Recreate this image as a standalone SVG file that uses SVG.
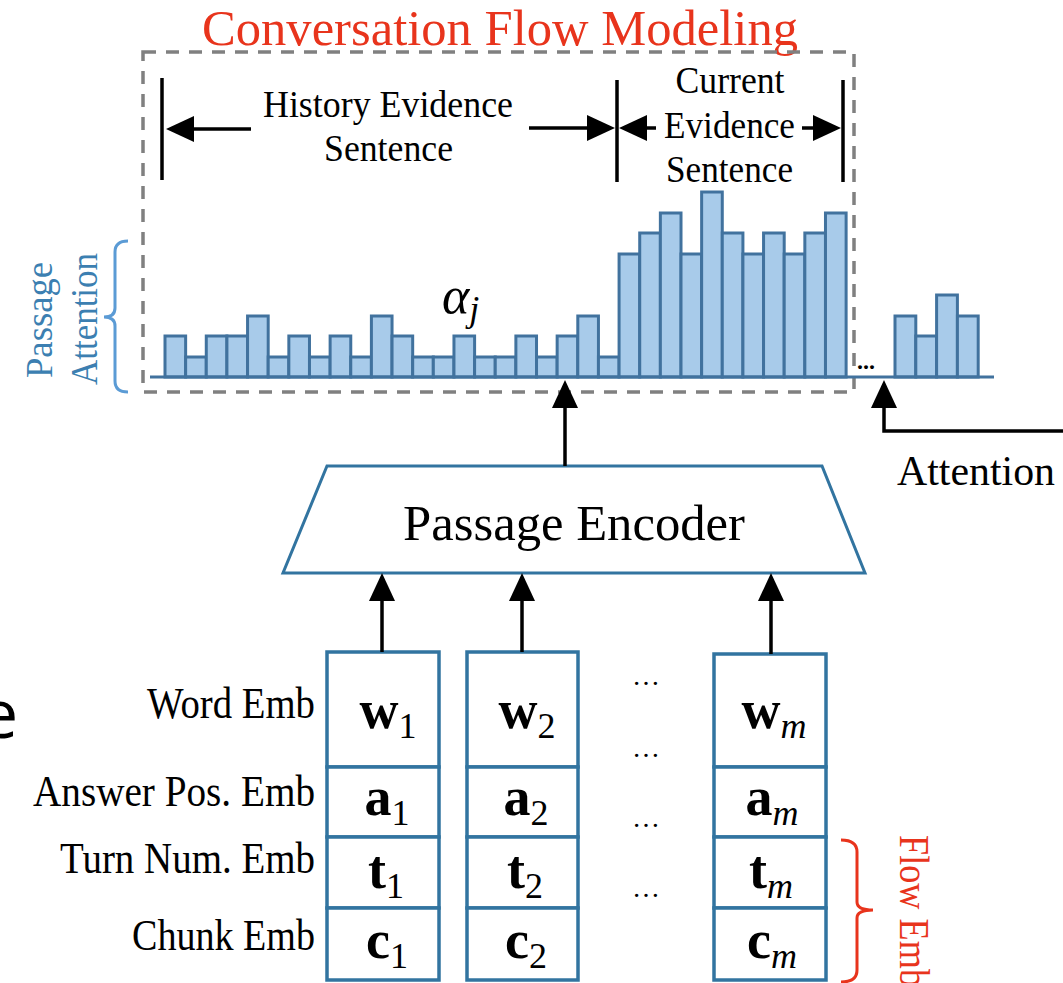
<svg xmlns="http://www.w3.org/2000/svg" width="1063" height="983" viewBox="0 0 1063 983">
  <style>
    .serif { font-family: "Liberation Serif", "Times New Roman", serif; }
    .red { fill: #E8341C; }
    .bar { fill: #A8CBEA; stroke: #41729E; stroke-width: 3; }
    .cell { fill: #fff; stroke: #3274A0; stroke-width: 3.5; }
    .conn { stroke: #000; stroke-width: 3.5; fill: none; }
    .math { font-family: "Liberation Serif", serif; font-weight: bold; font-size: 54px; text-anchor: middle; }
    .sub { font-size: 36px; font-weight: normal; }
    .subi { font-size: 36px; font-weight: normal; font-style: italic; }
    .lbl { font-family: "Liberation Serif", serif; font-size: 45px; text-anchor: end; }
    .dots { font-family: "Liberation Serif", serif; font-size: 28px; text-anchor: middle; }
  </style>
  <defs>
    <marker id="head" viewBox="0 0 28 26" refX="0" refY="13" markerWidth="28" markerHeight="26" markerUnits="userSpaceOnUse" orient="auto">
      <path d="M0,0 L28,13 L0,26 z" fill="#000"/>
    </marker>
  </defs>
  <rect width="1063" height="983" fill="#fff"/>

  <!-- partial glyph at left edge -->
  <text x="-20" y="738" font-family="Open Sans, sans-serif" font-size="68" fill="#000">e</text>

  <!-- flow modeling frame -->
  <g id="flow-frame">
    <text class="serif red" x="500" y="45" font-size="50" text-anchor="middle" textLength="596" lengthAdjust="spacingAndGlyphs">Conversation Flow Modeling</text>
    <rect x="143" y="52" width="711" height="340" fill="none" stroke="#808080" stroke-width="3.5" stroke-dasharray="13 10"/>
  </g>

  <!-- evidence span markers -->
  <g id="evidence-spans">
    <line class="conn" x1="162" y1="78" x2="162" y2="180"/>
    <line class="conn" x1="617" y1="80" x2="617" y2="182"/>
    <line class="conn" x1="843" y1="80" x2="843" y2="182"/>
    <text class="serif" x="388" y="117" font-size="38" text-anchor="middle" textLength="250" lengthAdjust="spacingAndGlyphs">History Evidence</text>
    <text class="serif" x="388.5" y="161" font-size="38" text-anchor="middle" textLength="129" lengthAdjust="spacingAndGlyphs">Sentence</text>
    <text class="serif" x="730" y="93" font-size="38" text-anchor="middle" textLength="109" lengthAdjust="spacingAndGlyphs">Current</text>
    <text class="serif" x="729.5" y="138" font-size="38" text-anchor="middle" textLength="131" lengthAdjust="spacingAndGlyphs">Evidence</text>
    <text class="serif" x="729.5" y="182" font-size="38" text-anchor="middle" textLength="127" lengthAdjust="spacingAndGlyphs">Sentence</text>
  </g>

  <!-- passage attention bars -->
  <g id="attention-bars">
    <rect class="bar" x="165.00" y="336" width="20.64" height="41"/>
    <rect class="bar" x="185.64" y="357" width="20.64" height="20"/>
    <rect class="bar" x="206.28" y="336" width="20.64" height="41"/>
    <rect class="bar" x="226.92" y="336" width="20.64" height="41"/>
    <rect class="bar" x="247.56" y="316" width="20.64" height="61"/>
    <rect class="bar" x="268.20" y="357" width="20.64" height="20"/>
    <rect class="bar" x="288.84" y="336" width="20.64" height="41"/>
    <rect class="bar" x="309.48" y="357" width="20.64" height="20"/>
    <rect class="bar" x="330.12" y="336" width="20.64" height="41"/>
    <rect class="bar" x="350.76" y="357" width="20.64" height="20"/>
    <rect class="bar" x="371.40" y="316" width="20.64" height="61"/>
    <rect class="bar" x="392.04" y="336" width="20.64" height="41"/>
    <rect class="bar" x="412.68" y="357" width="20.64" height="20"/>
    <rect class="bar" x="433.32" y="357" width="20.64" height="20"/>
    <rect class="bar" x="453.96" y="336" width="20.64" height="41"/>
    <rect class="bar" x="474.60" y="357" width="20.64" height="20"/>
    <rect class="bar" x="495.24" y="357" width="20.64" height="20"/>
    <rect class="bar" x="515.88" y="336" width="20.64" height="41"/>
    <rect class="bar" x="536.52" y="357" width="20.64" height="20"/>
    <rect class="bar" x="557.16" y="336" width="20.64" height="41"/>
    <rect class="bar" x="577.80" y="316" width="20.64" height="61"/>
    <rect class="bar" x="598.44" y="357" width="20.64" height="20"/>
    <rect class="bar" x="619.08" y="254" width="20.64" height="123"/>
    <rect class="bar" x="639.72" y="233" width="20.64" height="144"/>
    <rect class="bar" x="660.36" y="213" width="20.64" height="164"/>
    <rect class="bar" x="681.00" y="254" width="20.64" height="123"/>
    <rect class="bar" x="701.64" y="192" width="20.64" height="185"/>
    <rect class="bar" x="722.28" y="233" width="20.64" height="144"/>
    <rect class="bar" x="742.92" y="254" width="20.64" height="123"/>
    <rect class="bar" x="763.56" y="233" width="20.64" height="144"/>
    <rect class="bar" x="784.20" y="254" width="20.64" height="123"/>
    <rect class="bar" x="804.84" y="233" width="20.64" height="144"/>
    <rect class="bar" x="825.48" y="213" width="20.64" height="164"/>
    <rect class="bar" x="895.0" y="316" width="20.8" height="61"/>
    <rect class="bar" x="915.8" y="336" width="20.8" height="41"/>
    <rect class="bar" x="936.6" y="295" width="20.8" height="82"/>
    <rect class="bar" x="957.4" y="316" width="20.8" height="61"/>
    <line x1="150" y1="377" x2="994" y2="377" stroke="#41729E" stroke-width="3"/>
    <text class="serif" x="857" y="369" font-size="24" font-weight="bold">...</text>
    <text x="442" y="313" font-family="Liberation Serif, serif" font-size="52" font-style="italic">α<tspan font-size="36" dy="8">j</tspan></text>
  </g>

  <!-- passage attention label -->
  <g id="passage-attention-label" fill="#3C7FB1">
    <path d="M128,241 Q115,241 115,252 L115,308 Q115,317 104,317 Q115,317 115,326 L115,381 Q115,392 128,392" fill="none" stroke="#5B9BD5" stroke-width="3"/>
    <text class="serif" transform="translate(52,320) rotate(-90)" font-size="37" text-anchor="middle" textLength="116" lengthAdjust="spacingAndGlyphs">Passage</text>
    <text class="serif" transform="translate(97,319) rotate(-90)" font-size="37" text-anchor="middle" textLength="132" lengthAdjust="spacingAndGlyphs">Attention</text>
  </g>

  <!-- passage encoder -->
  <g id="passage-encoder">
    <polygon points="327,466 822,466 865,573 283,573" fill="#fff" stroke="#3274A0" stroke-width="3"/>
    <text class="serif" x="574" y="540" font-size="50" text-anchor="middle" textLength="342" lengthAdjust="spacingAndGlyphs">Passage Encoder</text>
  </g>

  <!-- attention input label -->
  <g id="attention-label">
    <text class="serif" x="897" y="485" font-size="43" textLength="158" lengthAdjust="spacingAndGlyphs">Attention</text>
  </g>

  <!-- row labels -->
  <g id="row-labels">
    <text class="lbl" x="315" y="718" textLength="168" lengthAdjust="spacingAndGlyphs">Word Emb</text>
    <text class="lbl" x="315" y="806" textLength="282" lengthAdjust="spacingAndGlyphs">Answer Pos. Emb</text>
    <text class="lbl" x="315" y="873" textLength="255" lengthAdjust="spacingAndGlyphs">Turn Num. Emb</text>
    <text class="lbl" x="315" y="950" textLength="183" lengthAdjust="spacingAndGlyphs">Chunk Emb</text>
  </g>

  <!-- token column 1 -->
  <g id="token-1">
    <rect class="cell" x="327" y="652" width="112" height="115"/>
    <rect class="cell" x="327" y="767" width="112" height="70"/>
    <rect class="cell" x="327" y="837" width="112" height="71"/>
    <rect class="cell" x="327" y="908" width="112" height="72"/>
    <text class="math" x="388" y="728">w<tspan class="sub" dy="10">1</tspan></text>
    <text class="math" x="387" y="815">a<tspan class="sub" dy="10">1</tspan></text>
    <text class="math" x="386" y="888">t<tspan class="sub" dy="10">1</tspan></text>
    <text class="math" x="387" y="958">c<tspan class="sub" dy="10">1</tspan></text>
  </g>

  <!-- token column 2 -->
  <g id="token-2">
    <rect class="cell" x="467" y="652" width="111" height="115"/>
    <rect class="cell" x="467" y="767" width="111" height="70"/>
    <rect class="cell" x="467" y="837" width="111" height="71"/>
    <rect class="cell" x="467" y="908" width="111" height="72"/>
    <text class="math" x="527" y="728">w<tspan class="sub" dy="10">2</tspan></text>
    <text class="math" x="526" y="815">a<tspan class="sub" dy="10">2</tspan></text>
    <text class="math" x="525" y="888">t<tspan class="sub" dy="10">2</tspan></text>
    <text class="math" x="526" y="958">c<tspan class="sub" dy="10">2</tspan></text>
  </g>

  <!-- elided columns -->
  <g id="token-ellipsis">
    <text class="dots" x="646" y="685">…</text>
    <text class="dots" x="646" y="757">…</text>
    <text class="dots" x="646" y="827">…</text>
    <text class="dots" x="646" y="897">…</text>
  </g>

  <!-- token column m -->
  <g id="token-m">
    <rect class="cell" x="714" y="654" width="112" height="113"/>
    <rect class="cell" x="714" y="767" width="112" height="70"/>
    <rect class="cell" x="714" y="837" width="112" height="71"/>
    <rect class="cell" x="714" y="908" width="112" height="72"/>
    <text class="math" x="774" y="728">w<tspan class="subi" dy="10">m</tspan></text>
    <text class="math" x="772" y="815">a<tspan class="subi" dy="10">m</tspan></text>
    <text class="math" x="771" y="888">t<tspan class="subi" dy="10">m</tspan></text>
    <text class="math" x="772" y="958">c<tspan class="subi" dy="10">m</tspan></text>
  </g>

  <!-- flow embedding label -->
  <g id="flow-emb-label" class="red">
    <path d="M841,840 Q857,840 857,852 L857,902 Q857,910 873,910 Q857,910 857,918 L857,970 Q857,982 841,982" fill="none" stroke="#E8341C" stroke-width="3"/>
    <text class="serif" transform="translate(900,835) rotate(90)" font-size="42" textLength="152" lengthAdjust="spacingAndGlyphs">Flow Emb</text>
  </g>

  <!-- connectors -->
  <g id="connectors">
    <line class="conn" x1="251" y1="129" x2="194" y2="129" marker-end="url(#head)"/>
    <line class="conn" x1="529" y1="128" x2="587" y2="128" marker-end="url(#head)"/>
    <line class="conn" x1="656" y1="128" x2="647" y2="128" marker-end="url(#head)"/>
    <line class="conn" x1="802" y1="128" x2="813" y2="128" marker-end="url(#head)"/>
    <line class="conn" x1="565" y1="466" x2="565" y2="408" marker-end="url(#head)"/>
    <line class="conn" x1="382" y1="652" x2="382" y2="601" marker-end="url(#head)"/>
    <line class="conn" x1="522" y1="652" x2="522" y2="601" marker-end="url(#head)"/>
    <line class="conn" x1="771" y1="654" x2="771" y2="601" marker-end="url(#head)"/>
    <polyline class="conn" points="1063,431 884,431 884,408" marker-end="url(#head)"/>
  </g>
</svg>
